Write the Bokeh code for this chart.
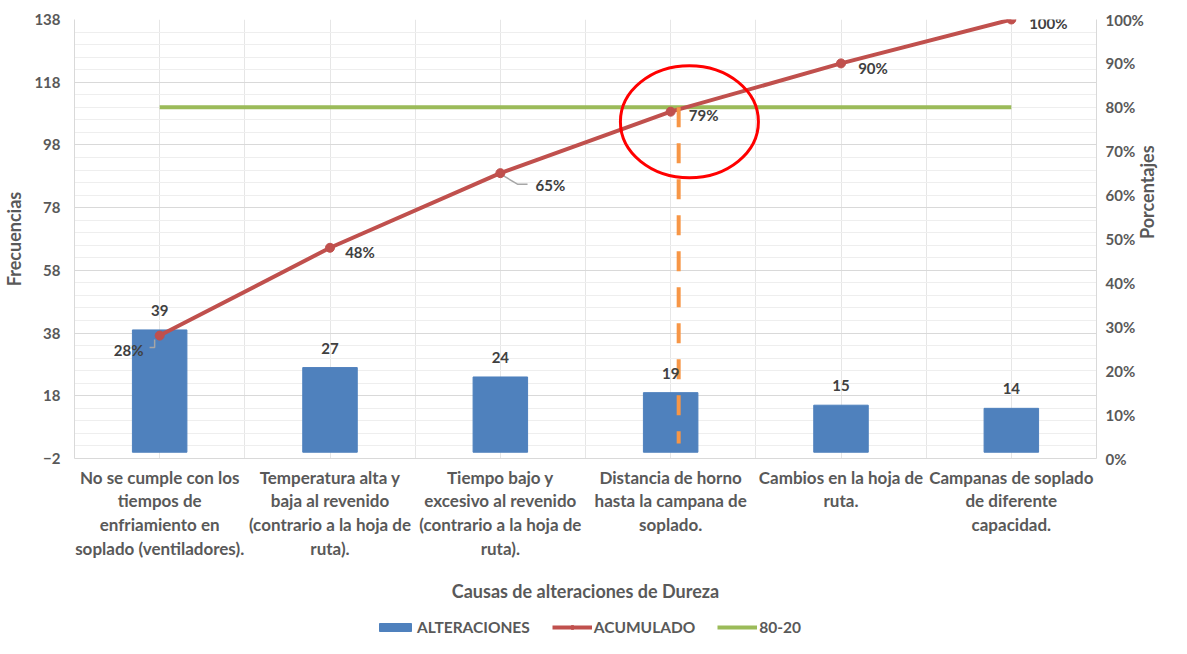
import math
from bokeh.plotting import figure
from bokeh.layouts import column
from bokeh.models import (Range1d, LinearAxis, FixedTicker, NumeralTickFormatter,
                          Legend, LegendItem, ColumnDataSource, LabelSet)
from bokeh.embed import file_html
from bokeh.resources import INLINE
from bokeh.core.properties import value

# ---------------- data ----------------
categories = [
    "No se cumple con los\ntiempos de\nenfriamiento en\nsoplado (ventiladores).",
    "Temperatura alta y\nbaja al revenido\n(contrario a la hoja de\nruta).",
    "Tiempo bajo y\nexcesivo al revenido\n(contrario a la hoja de\nruta).",
    "Distancia de horno\nhasta la campana de\nsoplado.",
    "Cambios en la hoja de\nruta.",
    "Campanas de soplado\nde diferente\ncapacidad.",
]
alteraciones = [39, 27, 24, 19, 15, 14]
acumulado_pct = [0.28, 0.48, 0.65, 0.79, 0.90, 1.00]
limite_80_20 = [0.80, 0.80, 0.80, 0.80, 0.80, 0.80]
left_ticks = [-2, 18, 38, 58, 78, 98, 118, 138]
right_ticks = [0.0, 0.1, 0.2, 0.3, 0.4, 0.5, 0.6, 0.7, 0.8, 0.9, 1.0]
highlight_index = 3  # point where the cumulative reaches ~80%

# ---------------- styles ----------------
FONT = "Lato"
TXT = "#595959"
DARK = "#404040"
BLUE = "#4f81bd"
RED = "#c0504d"
GREEN = "#9bbb59"
ORANGE = "#f79646"
LEADER = "#a6a6a6"

n = len(categories)
xc = [i + 0.5 for i in range(n)]
pct_x_offsets = [-31, 30, 50, 33, 32, 37]
pct_y_offsets = [-14, -4, -12, -3, -5, -3]

p = figure(width=1171, height=604, x_range=Range1d(0, n), y_range=Range1d(-2, 138),
           output_backend="svg", toolbar_location=None,
           min_border_left=71, min_border_right=70, min_border_top=19, min_border_bottom=146,
           background_fill_color="white", border_fill_color="white")
p.outline_line_color = None
p.extra_y_ranges = {"pct": Range1d(0, 1)}

# axes
p.yaxis.ticker = FixedTicker(ticks=left_ticks,
                             minor_ticks=[-2 + 4 * k for k in range(36)])
p.yaxis.axis_label = "Frecuencias"
p.xaxis.ticker = FixedTicker(ticks=xc)
p.xaxis.major_label_overrides = {x: c for x, c in zip(xc, categories)}
p.xaxis.axis_label = "Causas de alteraciones de Dureza"

right = LinearAxis(y_range_name="pct", ticker=FixedTicker(ticks=right_ticks),
                   formatter=NumeralTickFormatter(format="0%"), axis_label="Porcentajes")
p.add_layout(right, "right")

for ax in [p.xaxis[0], p.yaxis[0], right]:
    ax.axis_line_color = "#d9d9d9"
    ax.major_tick_line_color = None
    ax.minor_tick_line_color = None
    ax.major_tick_out = 0
    ax.minor_tick_out = 0
    ax.major_label_text_font = FONT
    ax.major_label_text_font_size = "15px"
    ax.major_label_text_font_style = "bold"
    ax.major_label_text_color = TXT
    ax.axis_label_text_font = FONT
    ax.axis_label_text_font_size = "18px"
    ax.axis_label_text_font_style = "bold"
    ax.axis_label_text_color = TXT

try:
    right.axis_label_orientation = math.pi / 2
except Exception:
    pass

p.yaxis[0].major_label_standoff = 14
p.yaxis[0].axis_label_standoff = 6
right.major_label_standoff = 9
right.axis_label_standoff = 0
p.xaxis[0].major_label_text_font_size = "17px"
p.xaxis[0].major_label_standoff = 8
p.xaxis[0].major_label_text_line_height = 1.13
p.xaxis[0].axis_label_standoff = 18

# grids
p.ygrid.grid_line_color = "#d9d9d9"
p.ygrid.minor_grid_line_color = "#eeeeee"
p.xgrid.ticker = FixedTicker(ticks=[k * 0.5 for k in range(2 * n + 1)])
p.xgrid.grid_line_color = "#e6e6e6"

# glyphs
bars = p.vbar(x=xc, top=alteraciones, width=0.32, fill_color=BLUE, line_color=BLUE)
green = p.line(xc, limite_80_20, y_range_name="pct", line_color=GREEN, line_width=4)

# leader lines for two of the percentage labels (pixel offsets converted to data units)
px_x = 1.0 / 169.0
px_y = 1.0 / 439.0
i0, i2 = 0, 2
p.multi_line(xs=[[xc[i0] - 10 * px_x, xc[i0] - 5 * px_x, xc[i0] - 5 * px_x],
                 [xc[i2] + 2 * px_x, xc[i2] + 17 * px_x, xc[i2] + 27 * px_x]],
             ys=[[acumulado_pct[i0] - 12 * px_y, acumulado_pct[i0] - 12 * px_y, acumulado_pct[i0] - 4 * px_y],
                 [acumulado_pct[i2] - 2 * px_y, acumulado_pct[i2] - 11 * px_y, acumulado_pct[i2] - 11 * px_y]],
             y_range_name="pct", line_color=LEADER, line_width=1.5)

red = p.line(xc, acumulado_pct, y_range_name="pct", line_color=RED, line_width=4)
redpts = p.scatter(xc, acumulado_pct, y_range_name="pct", size=9,
                   fill_color=RED, line_color=RED)

# highlight marks
hx = xc[highlight_index] + 0.047
p.segment(x0=[hx], y0=[limite_80_20[highlight_index]], x1=[hx], y1=[0.034],
          y_range_name="pct", line_color=ORANGE, line_width=4, line_dash="20 16")
p.ellipse(x=[xc[highlight_index] + 0.11], y=[0.767], width=138, height=112,
          width_units="screen", height_units="screen", y_range_name="pct",
          fill_alpha=0, line_color="#ff0000", line_width=3)

# data labels
src_c = ColumnDataSource(dict(x=xc, y=alteraciones, t=[str(v) for v in alteraciones]))
p.add_layout(LabelSet(x="x", y="y", text="t", source=src_c, y_offset=14,
                      text_align="center", text_baseline="bottom",
                      text_font=value(FONT), text_font_size="15px",
                      text_font_style="bold", text_color=DARK))
src_p = ColumnDataSource(dict(x=xc, y=acumulado_pct,
                              t=[f"{round(v * 100)}%" for v in acumulado_pct],
                              xo=pct_x_offsets, yo=pct_y_offsets))
p.add_layout(LabelSet(x="x", y="y", text="t", source=src_p, y_range_name="pct",
                      x_offset="xo", y_offset="yo",
                      text_align="center", text_baseline="middle",
                      text_font=value(FONT), text_font_size="15px",
                      text_font_style="bold", text_color=DARK))

# ---------------- legend strip (separate small figure below) ----------------
lf = figure(width=1171, height=34, x_range=Range1d(0, 1), y_range=Range1d(0, 1),
            output_backend="svg", toolbar_location=None,
            x_axis_location=None, y_axis_location=None, min_border=0,
            background_fill_color="white", border_fill_color="white")
lf.outline_line_color = None
lf.grid.visible = False
# legend swatches only: hidden renderers that carry the series styles
lb = lf.vbar(x=[0.5], top=[0.5], width=0.1, fill_color=BLUE, line_color=BLUE, visible=False)
lr = lf.line(x=[0.4, 0.6], y=[0.5, 0.5], line_color=RED, line_width=4, visible=False)
lrp = lf.scatter(x=[0.5], y=[0.5], size=7, fill_color=RED, line_color=RED, visible=False)
lg = lf.line(x=[0.4, 0.6], y=[0.5, 0.5], line_color=GREEN, line_width=4, visible=False)

legend = Legend(items=[LegendItem(label="ALTERACIONES", renderers=[lb]),
                       LegendItem(label="ACUMULADO", renderers=[lr, lrp]),
                       LegendItem(label="80-20", renderers=[lg])],
                orientation="horizontal", location=(301, 2),
                glyph_width=40, glyph_height=10, label_height=16,
                label_standoff=2, spacing=22, padding=0, margin=0,
                border_line_color=None, background_fill_alpha=0,
                inactive_fill_alpha=0,
                label_text_font=FONT, label_text_font_size="15.5px",
                label_text_font_style="bold", label_text_color=TXT)
lf.add_layout(legend, "center")

layout = column(p, lf, spacing=0)
open("out.html", "w").write(file_html(layout, INLINE))
